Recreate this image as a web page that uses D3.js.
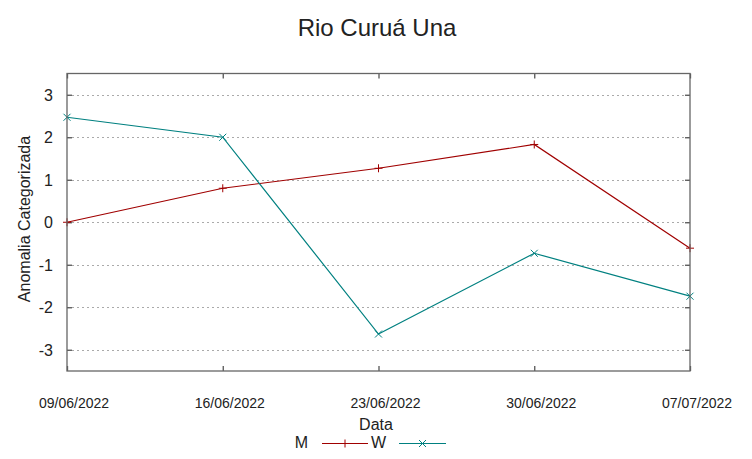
<!DOCTYPE html>
<html><head><meta charset="utf-8">
<script src="https://cdn.jsdelivr.net/npm/d3@7"></script>
<style>body{margin:0;background:#fff}svg{display:block}text{font-family:"Liberation Sans",Arial,sans-serif}</style>
</head><body>
<svg id="c" width="752" height="459"></svg>
<script>
const dates = ["09/06/2022","16/06/2022","23/06/2022","30/06/2022","07/07/2022"];
const seriesM = [0.0, 0.80, 1.27, 1.83, -0.61];
const seriesW = [2.47, 2.0, -2.63, -0.73, -1.74];
const yTicks = [-3,-2,-1,0,1,2,3];
const colorM = "#a00000", colorW = "#008080";

const svg = d3.select("#c");
const L = 67, R = 690, T = 73.5, B = 371;
const x = d3.scalePoint().domain(dates).range([L, R]);
const y = d3.scaleLinear().domain([-3.5, 3.5]).range([B, T]);

// grid
svg.append("g").selectAll("line").data(yTicks).join("line")
  .attr("x1", L).attr("x2", R).attr("y1", d => Math.round(y(d))+0.5).attr("y2", d => Math.round(y(d))+0.5)
  .attr("stroke", "#aaa").attr("stroke-width", 1).attr("stroke-dasharray", "2,3");

// axes ticks (inward, mirrored)
const ax = svg.append("g");
ax.append("g").attr("transform", `translate(${L},0)`)
  .call(d3.axisRight(y).tickValues(yTicks).tickSize(5).tickFormat(""))
  .call(g => g.select(".domain").remove());
ax.append("g").attr("transform", `translate(${R},0)`)
  .call(d3.axisLeft(y).tickValues(yTicks).tickSize(5).tickFormat(""))
  .call(g => g.select(".domain").remove());
ax.append("g").attr("transform", `translate(0,${B})`)
  .call(d3.axisTop(x).tickSize(5).tickFormat(""))
  .call(g => g.select(".domain").remove());
ax.append("g").attr("transform", `translate(0,${T})`)
  .call(d3.axisBottom(x).tickSize(5).tickFormat(""))
  .call(g => g.select(".domain").remove());
ax.selectAll(".tick line").attr("stroke", "#555").attr("stroke-width", 1.3);

// y tick labels
svg.append("g").selectAll("text").data(yTicks).join("text")
  .attr("x", 53).attr("y", d => y(d)).attr("dy", "0.36em")
  .attr("text-anchor", "end").attr("font-size", 16).attr("fill", "#222")
  .text(d => d);

// x tick labels
svg.append("g").selectAll("text").data(dates).join("text")
  .attr("x", d => x(d) + 7).attr("y", 407.5)
  .attr("text-anchor", "middle").attr("font-size", 14).attr("fill", "#222")
  .text(d => d);

// series lines
const line = d3.line().x((d,i) => x(dates[i])).y(d => y(d));
function cross(g, cx, cy, c){
  g.append("path").attr("d", `M${cx-4},${cy}H${cx+4}M${cx},${cy-4}V${cy+4}`).attr("stroke", c).attr("stroke-width", 1).attr("fill","none");
}
function xmark(g, cx, cy, c){
  g.append("path").attr("d", `M${cx-3.5},${cy-3.5}L${cx+3.5},${cy+3.5}M${cx-3.5},${cy+3.5}L${cx+3.5},${cy-3.5}`).attr("stroke", c).attr("stroke-width", 1).attr("fill","none");
}
const gM = svg.append("g"), gW = svg.append("g");
gM.append("path").datum(seriesM).attr("d", line).attr("fill","none").attr("stroke", colorM).attr("stroke-width", 1.2);
seriesM.forEach((v,i) => cross(gM, x(dates[i]), y(v), colorM));
gW.append("path").datum(seriesW).attr("d", line).attr("fill","none").attr("stroke", colorW).attr("stroke-width", 1.2);
seriesW.forEach((v,i) => xmark(gW, x(dates[i]), y(v), colorW));

// frame
svg.append("rect").attr("x", L).attr("y", T).attr("width", R-L).attr("height", B-T)
  .attr("fill","none").attr("stroke","#666").attr("stroke-width", 1.3);

// title
svg.append("text").attr("x", 377).attr("y", 36).attr("text-anchor","middle").attr("font-size", 24).attr("fill","#222").text("Rio Curuá Una");
// axis titles
svg.append("text").attr("x", 376).attr("y", 430).attr("text-anchor","middle").attr("font-size", 16).attr("fill","#222").text("Data");
svg.append("text").attr("transform","translate(30,219) rotate(-90)").attr("text-anchor","middle").attr("font-size", 16).attr("fill","#222").text("Anomalia Categorizada");

// legend
const lg = svg.append("g");
lg.append("text").attr("x", 308).attr("y", 448).attr("text-anchor","end").attr("font-size", 16).attr("fill","#222").text("M");
lg.append("line").attr("x1", 322).attr("x2", 368).attr("y1", 443.5).attr("y2", 443.5).attr("stroke", colorM).attr("stroke-width", 1.2);
cross(lg, 345, 443.5, colorM);
lg.append("text").attr("x", 386).attr("y", 448).attr("text-anchor","end").attr("font-size", 16).attr("fill","#222").text("W");
lg.append("line").attr("x1", 399).attr("x2", 446).attr("y1", 443.5).attr("y2", 443.5).attr("stroke", colorW).attr("stroke-width", 1.2);
xmark(lg, 422.5, 443.5, colorW);
</script>
</body></html>
